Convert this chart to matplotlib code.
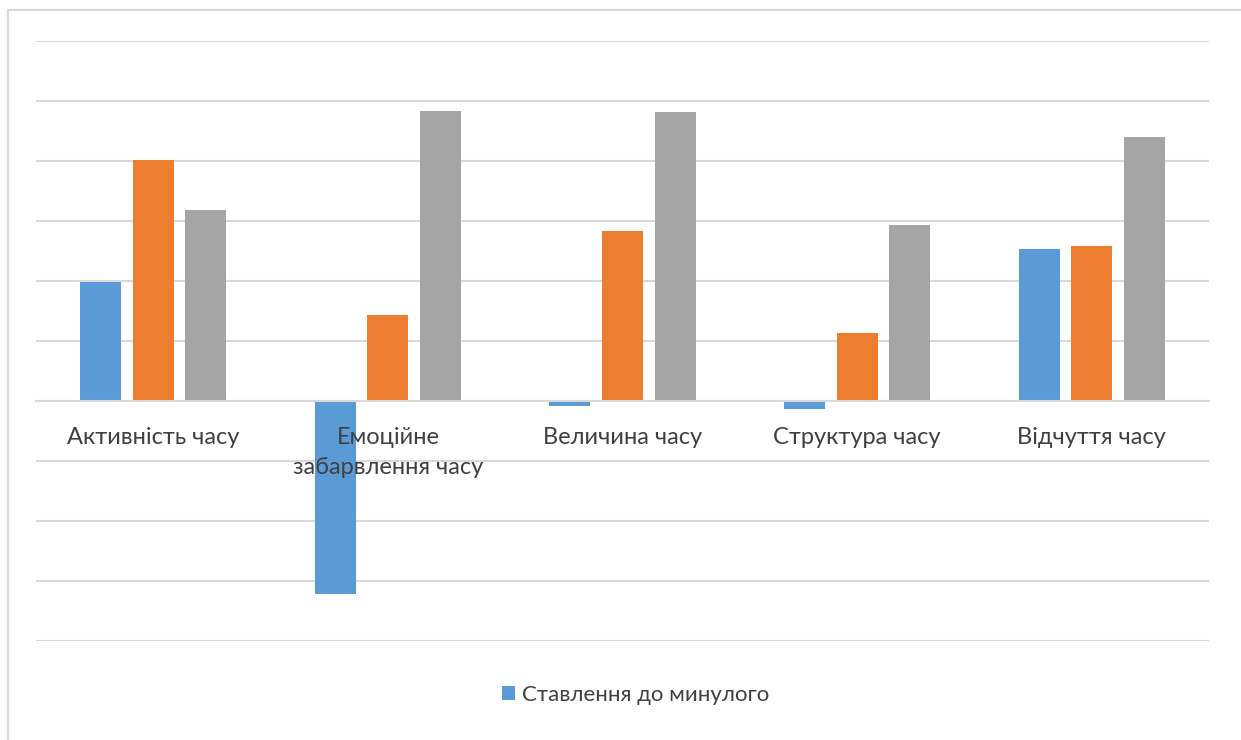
import matplotlib
matplotlib.use("Agg")
import matplotlib.pyplot as plt
from matplotlib.lines import Line2D
from matplotlib.transforms import offset_copy
import numpy as np

categories = ["Активність часу", "Емоційне\nзабарвлення часу", "Величина часу",
              "Структура часу", "Відчуття часу"]
past = [1.98, -3.21, -0.09, -0.14, 2.53]
present = [4.01, 1.43, 2.83, 1.14, 2.59]
future = [3.19, 4.83, 4.81, 2.94, 4.40]
series_names = ["Ставлення до минулого", "Ставлення до теперішнього", "Ставлення до майбутнього"]
colors = ["#5B9BD5", "#ED7D31", "#A5A5A5"]

W, H = 1241, 740
fig = plt.figure(figsize=(W / 100, H / 100), dpi=100)
plt.rcParams["font.family"] = ["Lato", "DejaVu Sans"]

ax = fig.add_axes([36 / W, 1 - 641 / H, (1209 - 36) / W, 600 / H])
x = np.arange(len(categories))
width = 0.175
step = 0.224
bars = []
for i, (vals, c, name) in enumerate(zip([past, present, future], colors, series_names)):
    b = ax.bar(x + (i - 1) * step, vals, width=width, color=c, label=name, zorder=3)
    bars.append(b)

ax.set_xlim(-0.5, len(categories) - 0.5)
ax.set_ylim(-4, 6)
ax.set_yticks(np.arange(-4, 7, 1))
ax.yaxis.grid(True, color="#D9D9D9", linewidth=1.5, zorder=0)
ax.tick_params(axis="y", left=False, labelleft=False)
for s in ["left", "right", "top"]:
    ax.spines[s].set_visible(False)
ax.spines["bottom"].set_position(("data", 0))
ax.spines["bottom"].set_color("#D9D9D9")
ax.spines["bottom"].set_linewidth(1.5)
ax.spines["bottom"].set_zorder(4)
ax.set_xticks(x)
ax.tick_params(axis="x", length=0, labelbottom=False)

# category labels sit just under the zero line, drawn over the bars
label_tr = offset_copy(ax.transData, fig=fig, x=0, y=-26, units="dots")
for xi, lab in zip(x, categories):
    ax.text(xi, 0, lab, transform=label_tr, ha="center", va="top", fontsize=17,
            color="#404040", linespacing=1.5, zorder=6)

# chart frame
fig.add_artist(Line2D([7.5 / W, 1], [1 - 9.5 / H, 1 - 9.5 / H], color="#D9D9D9", linewidth=1.5))
fig.add_artist(Line2D([7.5 / W, 7.5 / W], [0, 1 - 9.5 / H], color="#D9D9D9", linewidth=1.5))

fig.legend([bars[0]], [series_names[0]], loc="center", bbox_to_anchor=(636 / W, 1 - 695 / H),
           frameon=False, fontsize=16, handlelength=0.55, handleheight=0.55, handletextpad=0.35,
           labelcolor="#404040")

fig.savefig("out.png", dpi=100, facecolor="white")
